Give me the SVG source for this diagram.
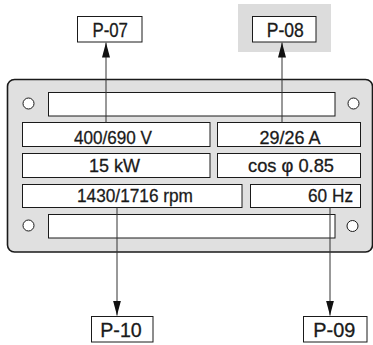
<svg xmlns="http://www.w3.org/2000/svg" width="373" height="345" viewBox="0 0 373 345">
<defs>
<marker id="ah" markerUnits="userSpaceOnUse" markerWidth="15" markerHeight="8" viewBox="0 0 15 8" refX="15" refY="4" orient="auto">
<path d="M0,0 L15,4 L0,8 Z" fill="#111"/>
</marker>
</defs>
<style>
.box{fill:#fff;stroke:#1a1a1a;stroke-width:1}
.lbl{fill:#fff;stroke:#1a1a1a;stroke-width:1}
.hole{fill:#fff;stroke:#1a1a1a;stroke-width:1}
.t{font-family:"Liberation Sans Narrow","Liberation Sans",Arial,sans-serif;font-size:19px;fill:#1a1a1a;stroke:#1a1a1a;stroke-width:0.3}
.tl{font-family:"Liberation Sans Narrow","Liberation Sans",Arial,sans-serif;font-size:20px;fill:#1a1a1a;stroke:#1a1a1a;stroke-width:0.3}
.c{stroke:#333;stroke-width:1;fill:none}
</style>
<rect x="238" y="4" width="93" height="48" fill="#dcdcdc"/>
<g id="plate">
<rect x="7.5" y="79.5" width="365" height="172.5" rx="7" fill="#e0e0e0" stroke="#1a1a1a" stroke-width="1.6"/>
<circle class="hole" cx="28.5" cy="103.5" r="5.5"/>
<circle class="hole" cx="353.5" cy="103.5" r="5.5"/>
<circle class="hole" cx="28.5" cy="225.5" r="5.5"/>
<circle class="hole" cx="352.5" cy="226" r="5.5"/>
<rect class="box" x="48.5" y="92.5" width="286.5" height="23.5"/>
<rect class="box" x="48.5" y="214.5" width="286.5" height="23.5"/>
</g>
<g id="voltage">
<rect class="box" x="22.5" y="122.5" width="187.5" height="24"/>
<text class="t" x="113" y="144" text-anchor="middle" textLength="78" lengthAdjust="spacingAndGlyphs">400/690 V</text>
</g>
<g id="current">
<rect class="box" x="217.5" y="122.5" width="143" height="24"/>
<text class="t" x="290" y="143.5" text-anchor="middle" textLength="61" lengthAdjust="spacingAndGlyphs">29/26 A</text>
</g>
<g id="power">
<rect class="box" x="22.5" y="153.5" width="187.5" height="24"/>
<text class="t" x="114.5" y="172.3" text-anchor="middle" textLength="51" lengthAdjust="spacingAndGlyphs">15 kW</text>
</g>
<g id="cosphi">
<rect class="box" x="217.5" y="153.5" width="143" height="24"/>
<text class="t" x="291" y="172.3" text-anchor="middle" textLength="86" lengthAdjust="spacingAndGlyphs">cos φ 0.85</text>
</g>
<g id="speed">
<rect class="box" x="22.5" y="184.5" width="219.5" height="23"/>
<text class="t" x="135" y="202.3" text-anchor="middle" textLength="116" lengthAdjust="spacingAndGlyphs">1430/1716 rpm</text>
</g>
<g id="frequency">
<rect class="box" x="250.5" y="184.5" width="110" height="23"/>
<text class="t" x="353" y="202.3" text-anchor="end" textLength="45" lengthAdjust="spacingAndGlyphs">60 Hz</text>
</g>
<g id="P-07">
<rect class="lbl" x="77.5" y="16.5" width="64.5" height="25.5"/>
<text class="tl" x="110.2" y="37.3" text-anchor="middle" textLength="35.5" lengthAdjust="spacingAndGlyphs">P-07</text>
</g>
<g id="P-08">
<rect class="lbl" x="252.5" y="16.5" width="63.5" height="25.5"/>
<text class="tl" x="285.3" y="37.3" text-anchor="middle" textLength="37" lengthAdjust="spacingAndGlyphs">P-08</text>
</g>
<g id="P-10">
<rect class="lbl" x="91.5" y="316.5" width="61.5" height="25.5"/>
<text class="tl" x="121" y="336.5" text-anchor="middle" textLength="41.5" lengthAdjust="spacingAndGlyphs">P-10</text>
</g>
<g id="P-09">
<rect class="lbl" x="303.5" y="316.5" width="63.5" height="25.5"/>
<text class="tl" x="334.3" y="336.5" text-anchor="middle" textLength="42" lengthAdjust="spacingAndGlyphs">P-09</text>
</g>
<g id="connectors">
<line class="c" x1="106" y1="122.5" x2="106" y2="42.5" marker-end="url(#ah)"/>
<line class="c" x1="282" y1="122.5" x2="282" y2="42.5" marker-end="url(#ah)"/>
<line class="c" x1="117" y1="207.5" x2="117" y2="315.5" marker-end="url(#ah)"/>
<line class="c" x1="330" y1="207.5" x2="330" y2="315.5" marker-end="url(#ah)"/>
</g>
</svg>
